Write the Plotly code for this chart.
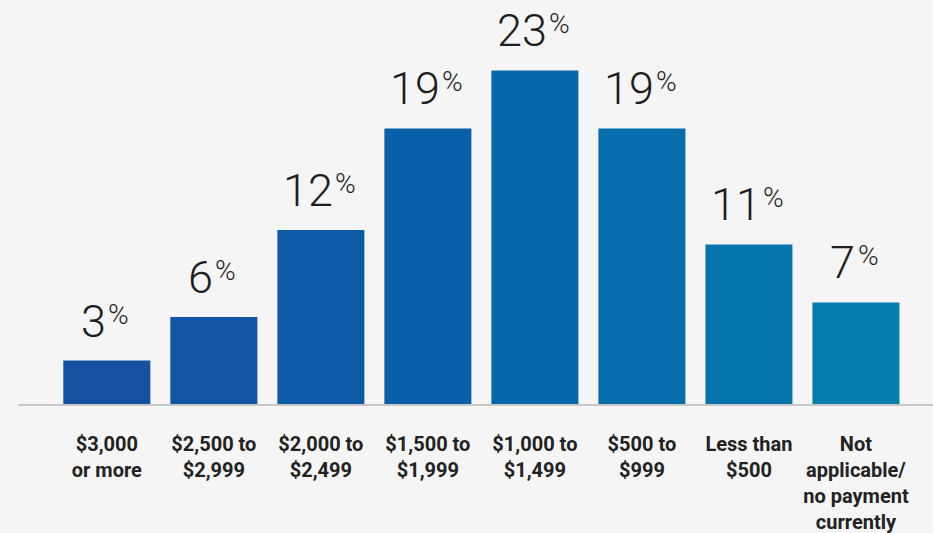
import plotly.graph_objects as go

# Monthly payment ranges and share of respondents (%)
categories = ["$3,000<br>or more", "$2,500 to<br>$2,999", "$2,000 to<br>$2,499",
              "$1,500 to<br>$1,999", "$1,000 to<br>$1,499", "$500 to<br>$999",
              "Less than<br>$500", "Not<br>applicable/<br>no payment<br>currently"]
shares = [3, 6, 12, 19, 23, 19, 11, 7]
bar_colors = ["#1650a0", "#1255a3", "#0d5ba6", "#0a60a8", "#0866aa", "#076dac",
              "#0775ad", "#077dae"]

x_pos = list(range(len(categories)))

fig = go.Figure()
fig.add_trace(go.Bar(
    x=x_pos, y=shares,
    marker=dict(color=bar_colors, line=dict(width=0)),
    hoverinfo="skip",
))

# Value labels: large light number followed by a small raised percent sign
NUM_SIZE = 45
PCT_SIZE = 28
DIGIT_ADV = 0.5615 * NUM_SIZE   # Roboto digit advance
NUM_SHIFT = -13
label_font = dict(family="Roboto", color="#1e1e1e", weight=300)
for xi, v in zip(x_pos, shares):
    num = str(v)
    num_w = len(num) * DIGIT_ADV
    fig.add_annotation(
        x=xi, y=v, xref="x", yref="y", text=num,
        showarrow=False, xanchor="center", yanchor="bottom",
        xshift=NUM_SHIFT, yshift=11,
        font=dict(size=NUM_SIZE, **label_font),
    )
    fig.add_annotation(
        x=xi, y=v, xref="x", yref="y", text="%",
        showarrow=False, xanchor="left", yanchor="bottom",
        xshift=num_w / 2 + NUM_SHIFT, yshift=28,
        font=dict(size=PCT_SIZE, **label_font),
    )

fig.update_layout(
    width=933, height=533,
    margin=dict(l=18, r=0, t=0, b=129),
    paper_bgcolor="#f5f5f5", plot_bgcolor="#f5f5f5",
    bargap=0.187,
    showlegend=False,
    xaxis=dict(
        range=[-0.83, 7.72],
        tickmode="array", tickvals=x_pos, ticktext=categories,
        showgrid=False, zeroline=False,
        showline=True, linecolor="#c8c8c8", linewidth=2,
        ticks="", ticklabelstandoff=21,
        tickfont=dict(family="Roboto", size=20, color="#222222", weight="bold"),
        fixedrange=True,
    ),
    yaxis=dict(
        range=[0, 27.86],
        visible=False, showgrid=False, zeroline=False,
        fixedrange=True,
    ),
)

fig.write_html("out.html")
